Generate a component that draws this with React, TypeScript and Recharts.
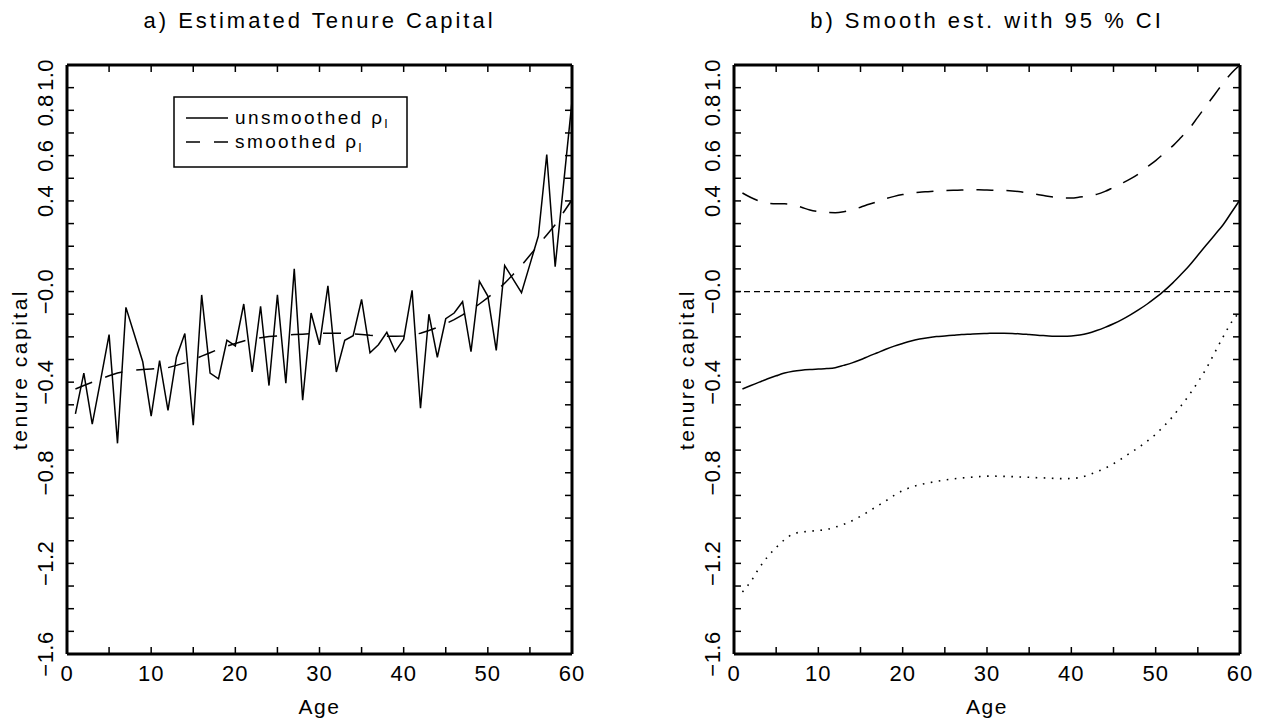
import React from "react";
import { LineChart, Line, XAxis, YAxis, ReferenceLine, Legend } from "recharts";

const ages = [
  1, 2, 3, 4, 5, 6, 7, 8, 9, 10, 11, 12, 13, 14, 15, 16, 17, 18, 19, 20,
  21, 22, 23, 24, 25, 26, 27, 28, 29, 30, 31, 32, 33, 34, 35, 36, 37, 38, 39, 40,
  41, 42, 43, 44, 45, 46, 47, 48, 49, 50, 51, 52, 53, 54, 55, 56, 57, 58, 59, 60,
];

const unsmoothed = [
  -0.54, -0.36, -0.585, -0.39, -0.19, -0.67, -0.07, -0.19, -0.31, -0.55,
  -0.305, -0.525, -0.29, -0.185, -0.59, -0.015, -0.36, -0.385, -0.215, -0.24,
  -0.055, -0.355, -0.065, -0.415, -0.015, -0.405, 0.1, -0.48, -0.095, -0.235,
  0.025, -0.355, -0.215, -0.195, -0.035, -0.27, -0.235, -0.18, -0.265, -0.21,
  0.005, -0.515, -0.1, -0.29, -0.12, -0.095, -0.045, -0.265, 0.045, -0.02,
  -0.26, 0.115, 0.055, -0.005, 0.12, 0.245, 0.605, 0.11, 0.475, 0.84,
];

const smoothed = [
  -0.43, -0.415, -0.4, -0.385, -0.372, -0.36, -0.352, -0.347, -0.344, -0.342,
  -0.34, -0.336, -0.326, -0.315, -0.301, -0.285, -0.27, -0.255, -0.241, -0.229,
  -0.218, -0.21, -0.204, -0.199, -0.196, -0.193, -0.19, -0.188, -0.186, -0.185,
  -0.184, -0.184, -0.185, -0.187, -0.19, -0.193, -0.195, -0.197, -0.197, -0.196,
  -0.192, -0.184, -0.172, -0.158, -0.142, -0.124, -0.103, -0.08, -0.055, -0.027,
  0.003, 0.037, 0.075, 0.115, 0.16, 0.205, 0.25, 0.295, 0.35, 0.405,
];

const lowerCI = [
  -1.326, -1.28, -1.22, -1.17, -1.13, -1.095, -1.07, -1.062, -1.058, -1.055,
  -1.05, -1.04, -1.028, -1.012, -0.992, -0.97, -0.947, -0.924, -0.9, -0.879,
  -0.864, -0.853, -0.845, -0.838, -0.832, -0.827, -0.823, -0.82, -0.817, -0.815,
  -0.815, -0.816, -0.817, -0.819, -0.82, -0.822, -0.823, -0.825, -0.826, -0.825,
  -0.821, -0.81, -0.796, -0.78, -0.76, -0.737, -0.712, -0.688, -0.66, -0.63,
  -0.593, -0.553, -0.505, -0.455, -0.4, -0.34, -0.27, -0.2, -0.135, -0.088,
];

const upperCI = [
  0.435, 0.415, 0.399, 0.39, 0.387, 0.387, 0.383, 0.372, 0.36, 0.353,
  0.349, 0.348, 0.352, 0.36, 0.372, 0.385, 0.397, 0.41, 0.42, 0.428,
  0.434, 0.438, 0.441, 0.444, 0.446, 0.447, 0.448, 0.449, 0.449, 0.448,
  0.447, 0.446, 0.444, 0.44, 0.434, 0.428, 0.422, 0.417, 0.413, 0.413,
  0.417, 0.422, 0.429, 0.442, 0.46, 0.478, 0.497, 0.52, 0.55, 0.578,
  0.61, 0.642, 0.68, 0.72, 0.77, 0.82, 0.87, 0.92, 0.965, 1.0,
];

const xTicks = [0, 5, 10, 15, 20, 25, 30, 35, 40, 45, 50, 55, 60];
const xLabels = [0, 10, 20, 30, 40, 50, 60];
const yTicks = [
  -1.6, -1.5, -1.4, -1.3, -1.2, -1.1, -1.0, -0.9, -0.8, -0.7, -0.6, -0.5, -0.4,
  -0.3, -0.2, -0.1, 0, 0.1, 0.2, 0.3, 0.4, 0.5, 0.6, 0.7, 0.8, 0.9, 1.0,
];
const yLabels = [1.0, 0.8, 0.6, 0.4, 0, -0.4, -0.8, -1.2, -1.6];

const rows = ages.map((age, i) => ({
  age,
  raw: unsmoothed[i],
  smooth: smoothed[i],
  lower: lowerCI[i],
  upper: upperCI[i],
}));

const FONT = "'Liberation Sans', Arial, sans-serif";
const H = 723;
const TOP = 65;
const BOTTOM = 654;
const TICK = 7;

const near = (a: number, b: number) => Math.abs(a - b) < 1e-6;
const fmtY = (v: number) =>
  near(v, 0) ? "\u22120.0" : v < 0 ? "\u2212" + Math.abs(v).toFixed(1) : v.toFixed(1);

function frame(plotLeft: number, plotRight: number, title: string) {
  const mid = (plotLeft + plotRight) / 2;
  const txt = { fontFamily: FONT, fill: "#000" };
  return [
    <XAxis
      key="xb"
      dataKey="age"
      type="number"
      domain={[0, 60]}
      ticks={xTicks}
      interval={0}
      height={1}
      allowDataOverflow
      axisLine={{ stroke: "#000", strokeWidth: 3 }}
      tickLine={false}
      tick={(p: any) => (
        <g>
          <line x1={p.x} x2={p.x} y1={BOTTOM} y2={BOTTOM - TICK} stroke="#000" strokeWidth={1.5} />
          {xLabels.includes(p.payload.value) && (
            <text x={p.x} y={BOTTOM + 27} textAnchor="middle" fontSize={22} letterSpacing={1} {...txt}>
              {p.payload.value}
            </text>
          )}
        </g>
      )}
      label={() => (
        <text x={mid} y={BOTTOM + 60} textAnchor="middle" fontSize={21} letterSpacing={1.5} {...txt}>
          Age
        </text>
      )}
    />,
    <XAxis
      key="xt"
      xAxisId="top"
      orientation="top"
      dataKey="age"
      type="number"
      domain={[0, 60]}
      ticks={xTicks}
      interval={0}
      height={1}
      allowDataOverflow
      axisLine={{ stroke: "#000", strokeWidth: 3 }}
      tickLine={false}
      tick={(p: any) => (
        <line x1={p.x} x2={p.x} y1={TOP} y2={TOP + TICK} stroke="#000" strokeWidth={1.5} />
      )}
      label={() => (
        <text x={mid} y={28} textAnchor="middle" fontSize={22} letterSpacing={3} {...txt}>
          {title}
        </text>
      )}
    />,
    <YAxis
      key="yl"
      type="number"
      domain={[-1.6, 1.0]}
      ticks={yTicks}
      interval={0}
      width={plotLeft}
      allowDataOverflow
      axisLine={{ stroke: "#000", strokeWidth: 3 }}
      tickLine={false}
      tick={(p: any) => {
        const v = p.payload.value;
        const show = yLabels.some((l) => near(l, v));
        const lx = plotLeft - 14;
        const top = near(v, 1.0);
        const ly = top ? p.y - 6 : p.y;
        return (
          <g>
            <line x1={plotLeft} x2={plotLeft + TICK} y1={p.y} y2={p.y} stroke="#000" strokeWidth={1.5} />
            {show && (
              <text
                x={lx}
                y={ly}
                transform={`rotate(-90, ${lx}, ${ly})`}
                textAnchor={top ? "end" : "middle"}
                fontSize={22}
                letterSpacing={0.5}
                {...txt}
              >
                {fmtY(v)}
              </text>
            )}
          </g>
        );
      }}
      label={() => (
        <text
          x={plotLeft - 40}
          y={(TOP + BOTTOM) / 2 + 10}
          transform={`rotate(-90, ${plotLeft - 40}, ${(TOP + BOTTOM) / 2 + 10})`}
          textAnchor="middle"
          fontSize={21}
          letterSpacing={2.5}
          {...txt}
        >
          tenure capital
        </text>
      )}
    />,
    <YAxis
      key="yr"
      yAxisId="right"
      orientation="right"
      type="number"
      domain={[-1.6, 1.0]}
      ticks={yTicks}
      interval={0}
      width={1}
      allowDataOverflow
      axisLine={{ stroke: "#000", strokeWidth: 3 }}
      tickLine={false}
      tick={(p: any) => (
        <line x1={plotRight} x2={plotRight - TICK} y1={p.y} y2={p.y} stroke="#000" strokeWidth={1.5} />
      )}
    />,
  ];
}

function LegendBox() {
  const t = { fontFamily: FONT, fill: "#000", fontSize: 19, letterSpacing: 2.4 };
  return (
    <svg width={236} height={73} style={{ display: "block" }}>
      <rect x={1} y={1} width={233} height={70} fill="#fff" stroke="#000" strokeWidth={1.5} />
      <line x1={13} x2={55} y1={22} y2={22} stroke="#000" strokeWidth={1.5} />
      <text x={62} y={28} {...t}>
        unsmoothed {"\u03C1"}
        <tspan fontSize={13} dy={4}>l</tspan>
      </text>
      <line x1={13} x2={55} y1={46} y2={46} stroke="#000" strokeWidth={1.5} strokeDasharray="14 14" />
      <text x={62} y={52} {...t}>
        smoothed {"\u03C1"}
        <tspan fontSize={13} dy={4}>l</tspan>
      </text>
    </svg>
  );
}

export default function App() {
  const w1 = 620;
  const w2 = 625;
  return (
    <div style={{ position: "absolute", left: 0, top: 0, width: 1265, height: H, background: "#fff" }}>
      <div style={{ position: "absolute", left: 0, top: 0 }}>
        <LineChart
          width={w1}
          height={H}
          data={rows}
          margin={{ top: TOP - 1, right: w1 - 572 - 1, bottom: H - BOTTOM - 1, left: 0 }}
        >
          {frame(67, 572, "a) Estimated Tenure Capital")}
          <Line type="linear" dataKey="raw" stroke="#000" strokeWidth={1.5} dot={false} isAnimationActive={false} />
          <Line
            type="linear"
            dataKey="smooth"
            stroke="#000"
            strokeWidth={1.5}
            strokeDasharray="18 14"
            dot={false}
            isAnimationActive={false}
          />
          <Legend
            layout="horizontal"
            verticalAlign="middle"
            align="center"
            content={() => <LegendBox />}
            wrapperStyle={{ left: 173, top: 96, width: 236, height: 73 }}
          />
        </LineChart>
      </div>
      <div style={{ position: "absolute", left: 640, top: 0 }}>
        <LineChart
          width={w2}
          height={H}
          data={rows}
          margin={{ top: TOP - 1, right: w2 - 600 - 1, bottom: H - BOTTOM - 1, left: 0 }}
        >
          {frame(94, 600, "b) Smooth est. with 95 % CI")}
          <ReferenceLine y={0} stroke="#000" strokeWidth={1.3} strokeDasharray="6 4" />
          <Line type="monotone" dataKey="smooth" stroke="#000" strokeWidth={1.5} dot={false} isAnimationActive={false} />
          <Line
            type="monotone"
            dataKey="upper"
            stroke="#000"
            strokeWidth={1.5}
            strokeDasharray="17 13"
            dot={false}
            isAnimationActive={false}
          />
          <Line
            type="monotone"
            dataKey="lower"
            stroke="#000"
            strokeWidth={1.6}
            strokeDasharray="1.6 6.5"
            dot={false}
            isAnimationActive={false}
          />
        </LineChart>
      </div>
    </div>
  );
}
